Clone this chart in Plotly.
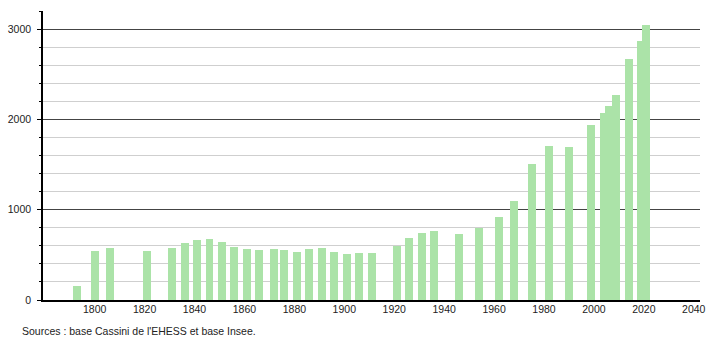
import plotly.graph_objects as go

years = [1793, 1800, 1806, 1821, 1831, 1836, 1841, 1846, 1851, 1856, 1861, 1866,
         1872, 1876, 1881, 1886, 1891, 1896, 1901, 1906, 1911, 1921, 1926, 1931,
         1936, 1946, 1954, 1962, 1968, 1975, 1982, 1990, 1999, 2004, 2006, 2009,
         2014, 2019, 2021]
population = [155, 544, 578, 544, 578, 633, 667, 678, 644, 589, 567, 556,
              567, 556, 533, 567, 578, 533, 511, 522, 522, 600, 689, 744,
              767, 733, 800, 922, 1100, 1511, 1700, 1689, 1933, 2067, 2144, 2267,
              2667, 2867, 3044]
x_ticks = [1800, 1820, 1840, 1860, 1880, 1900, 1920, 1940, 1960, 1980, 2000, 2020, 2040]
y_ticks = [0, 1000, 2000, 3000]
source_text = "Sources : base Cassini de l'EHESS et base Insee."

fig = go.Figure()
fig.add_trace(go.Bar(
    x=years, y=population, width=3.2,
    marker=dict(color="#abe3a8", line=dict(width=0)),
    hoverinfo="x+y",
))

font = dict(family="Liberation Sans, Arial, sans-serif", size=10.5, color="#222")

fig.update_layout(
    width=710, height=340,
    margin=dict(l=43, r=10, t=11, b=40, autoexpand=False),
    paper_bgcolor="white", plot_bgcolor="white",
    showlegend=False,
    font=font,
    bargap=0,
    xaxis=dict(
        range=[1779.3, 2042.5],
        tickvals=x_ticks, ticktext=[str(v) for v in x_ticks],
        showgrid=False, zeroline=False, automargin=False,
        showline=True, linecolor="#000", linewidth=1.5,
        ticks="", ticklabelstandoff=-1,
        tickfont=font,
    ),
    yaxis=dict(
        range=[0, 3200],
        tickvals=y_ticks, ticktext=[str(v) for v in y_ticks],
        showgrid=True, gridcolor="#444", gridwidth=1,
        zeroline=False, automargin=False,
        showline=True, linecolor="#000", linewidth=1.5,
        ticks="outside", ticklen=4, tickcolor="#000", tickwidth=1,
        ticklabelstandoff=4,
        tickfont=font,
        minor=dict(dtick=200, tick0=0, showgrid=True, gridcolor="#cfcfcf",
                   gridwidth=1, ticks="outside", ticklen=2, tickcolor="#000"),
    ),
    annotations=[dict(
        text=source_text, xref="paper", yref="paper",
        x=-0.035, y=-0.08, xanchor="left", yanchor="top",
        showarrow=False, font=font,
    )],
)

fig.write_html("out.html")
